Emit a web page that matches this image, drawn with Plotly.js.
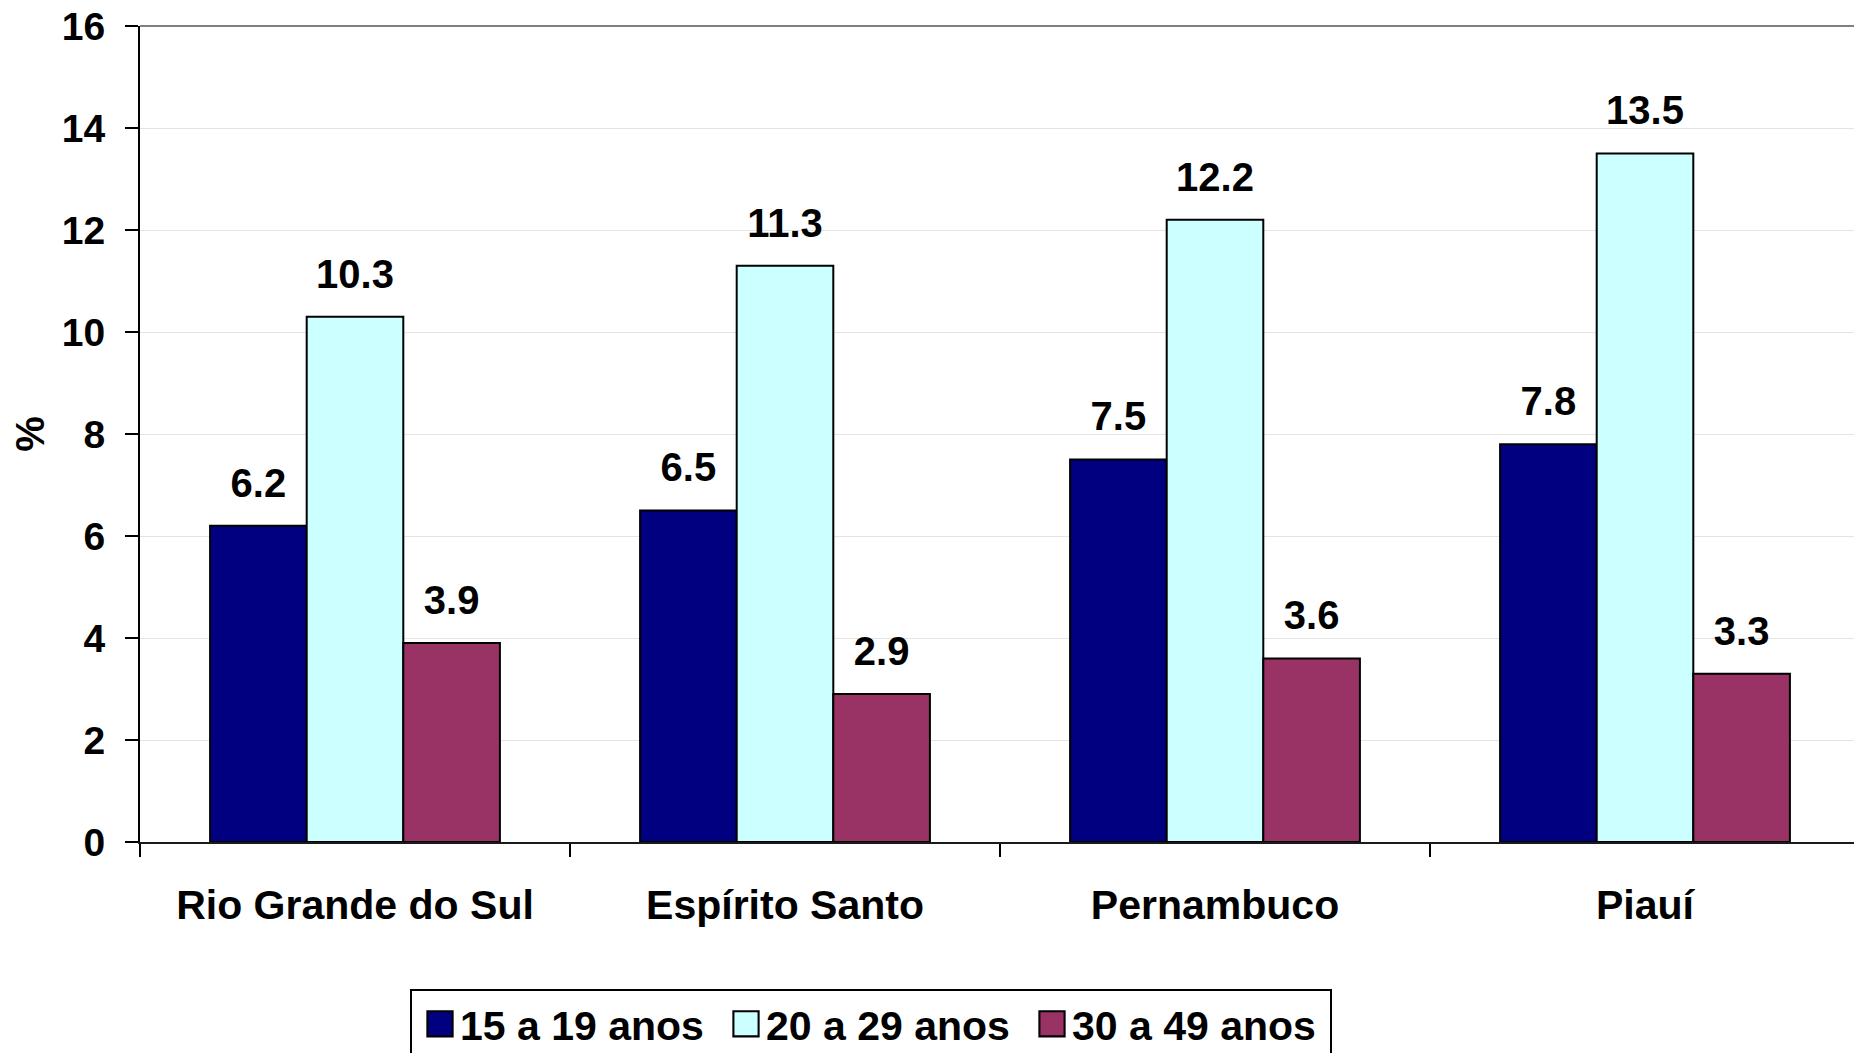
<!DOCTYPE html>
<html><head><meta charset="utf-8">
<script src="https://cdn.plot.ly/plotly-3.0.1.min.js"></script>
<style>html,body{margin:0;padding:0;overflow:hidden;background:#fff}#chart{width:1860px;height:1080px}</style>
</head><body><div id="chart"></div>
<script>
const categories = ['Rio Grande do Sul', 'Espírito Santo', 'Pernambuco', 'Piauí'];
const seriesNames = ['15 a 19 anos', '20 a 29 anos', '30 a 49 anos'];
const values15a19 = [6.2, 6.5, 7.5, 7.8];
const values20a29 = [10.3, 11.3, 12.2, 13.5];
const values30a49 = [3.9, 2.9, 3.6, 3.3];
const yTickValues = [0, 2, 4, 6, 8, 10, 12, 14, 16];
const seriesColors = ['#000080', '#CCFFFF', '#993366'];

const FONT = 'Liberation Sans, Arial, sans-serif';
const allSeries = [values15a19, values20a29, values30a49];

const barTraces = allSeries.map((vals, i) => ({
  type: 'bar',
  name: seriesNames[i],
  x: categories,
  y: vals,
  marker: {color: seriesColors[i], line: {color: '#000000', width: 2}},
  hoverinfo: 'skip'
}));

const labelTraces = allSeries.map((vals, i) => ({
  type: 'scatter',
  mode: 'markers+text',
  x: categories,
  y: vals,
  text: vals.map(v => v.toFixed(1)),
  textposition: 'top center',
  textfont: {family: FONT, size: 40, color: '#000000', weight: 'bold'},
  marker: {size: 29, opacity: 0, color: 'rgba(0,0,0,0)'},
  showlegend: false,
  hoverinfo: 'skip',
  cliponaxis: false
}));

const layout = {
  width: 1860,
  height: 1080,
  margin: {l: 140, r: 0, t: 26, b: 238},
  paper_bgcolor: '#ffffff',
  plot_bgcolor: '#ffffff',
  font: {family: FONT, size: 40, color: '#000000', weight: 'bold'},
  barmode: 'group',
  bargap: 0.326,
  bargroupgap: 0,
  scattermode: 'group',
  scattergap: 0.326,
  showlegend: true,
  hovermode: false,
  xaxis: {
    type: 'category',
    tickson: 'boundaries',
    ticks: 'outside',
    ticklen: 13,
    tickwidth: 2,
    tickcolor: '#000000',
    showline: true,
    linecolor: '#1a1a1a',
    linewidth: 2,
    showgrid: false,
    zeroline: false,
    ticklabelstandoff: 26,
    tickfont: {family: FONT, size: 41, color: '#000000', weight: 'bold'}
  },
  yaxis: {
    range: [0, 16],
    tickvals: yTickValues,
    ticktext: yTickValues.map(String),
    ticks: 'outside',
    ticklen: 13,
    tickwidth: 2,
    tickcolor: '#000000',
    showline: true,
    linecolor: '#000000',
    linewidth: 2,
    showgrid: true,
    gridcolor: '#e4e4e4',
    gridwidth: 1,
    zeroline: false,
    ticklabelstandoff: 12,
    tickfont: {family: FONT, size: 39, color: '#000000', weight: 'bold'},
    title: {text: '%', standoff: 5, font: {family: FONT, size: 40, color: '#000000', weight: 'bold'}}
  },
  legend: {
    orientation: 'h',
    x: 0.425,
    xanchor: 'center',
    y: -0.1797,
    yanchor: 'top',
    bgcolor: '#ffffff',
    bordercolor: '#000000',
    borderwidth: 2,
    font: {family: FONT, size: 41, color: '#000000', weight: 'bold'},
    entrywidth: 261,
    entrywidthmode: 'pixels',
    traceorder: 'normal',
    itemclick: false,
    itemdoubleclick: false
  },
  shapes: [{
    type: 'line', xref: 'paper', yref: 'paper', x0: 0, x1: 1, y0: 1, y1: 1,
    line: {color: '#808080', width: 2}, layer: 'above'
  }]
};

Plotly.newPlot('chart', barTraces.concat(labelTraces), layout, {displayModeBar: false, staticPlot: true}).then(() => {
  document.querySelectorAll('.legend .legendpoints path').forEach(p => {
    const t = p.getAttribute('transform') || '';
    p.setAttribute('transform', t + ' scale(2.1)');
    p.style.strokeWidth = '1px';
  });
  document.querySelectorAll('.legend g.traces').forEach(g => {
    const t = g.getAttribute('transform') || '';
    g.setAttribute('transform', 'translate(8,0) ' + t);
  });
});
</script>
</body></html>
